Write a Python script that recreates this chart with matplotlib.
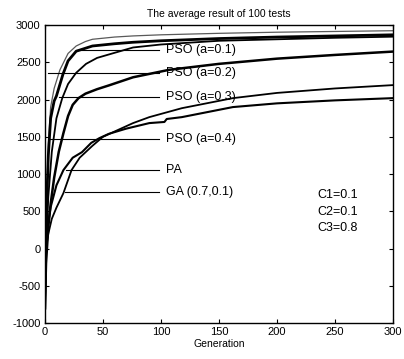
import matplotlib
matplotlib.use("Agg")
import matplotlib.pyplot as plt

plt.rcParams["font.family"] = ["Liberation Sans", "DejaVu Sans"]
plt.rcParams["axes.unicode_minus"] = False

# curves: (generation, fitness)
gen_c1 = [0, 1, 2, 3, 5, 8, 10, 13, 20, 27, 35, 41, 60, 76, 100, 150, 200, 250, 300]
val_c1 = [-800, 300, 900, 1400, 1900, 2150, 2250, 2400, 2620, 2720, 2780, 2810, 2840, 2855, 2870, 2890, 2905, 2915, 2925]

gen_c2 = [0, 1, 2, 3, 5, 8, 10, 15.6, 20, 27, 41, 60, 76, 100, 150, 200, 250, 300]
val_c2 = [-800, 200, 800, 1250, 1750, 1980, 2050, 2340, 2520, 2650, 2720, 2750, 2770, 2790, 2820, 2840, 2855, 2870]

gen_c3 = [0, 1, 3, 6, 10, 15, 20, 27, 35.5, 45, 56, 76, 100, 150, 200, 250, 300]
val_c3 = [-800, 0, 700, 1300, 1750, 2020, 2210, 2360, 2480, 2560, 2610, 2700, 2740, 2790, 2810, 2830, 2845]

gen_c4 = [0, 1, 3, 5, 8, 12, 16, 20, 24, 29, 35, 45, 55, 76, 107, 150, 200, 250, 300]
val_c4 = [-800, -200, 300, 600, 950, 1300, 1550, 1780, 1930, 2020, 2080, 2140, 2190, 2300, 2400, 2480, 2550, 2600, 2645]

gen_ga = [0, 1, 3, 6, 10, 16, 23, 30, 41, 50, 64, 76, 90, 118, 162, 200, 250, 300]
val_ga = [-800, 0, 200, 400, 550, 745, 1054, 1220, 1380, 1500, 1600, 1685, 1765, 1885, 2020, 2090, 2150, 2195]

gen_pa = [0, 1, 3, 5, 10, 16, 24, 32, 40, 47, 55, 70, 90, 103, 105, 118, 162, 200, 250, 300]
val_pa = [-800, 100, 350, 557, 850, 1054, 1220, 1295, 1420, 1483, 1540, 1610, 1685, 1700, 1740, 1765, 1900, 1950, 1990, 2020]

# label leader lines: name, level, start generation
labels = ["PSO (a=0.1)", "PSO (a=0.2)", "PSO (a=0.3)", "PSO (a=0.4)", "PA", "GA (0.7,0.1)"]
label_y = [2670, 2360, 2030, 1470, 1050, 760]
label_x0 = [27, 3, 12, 3, 18, 17]
label_x1 = 98
label_tx = 104

params = ["C1=0.1", "C2=0.1", "C3=0.8"]
param_y = [718, 490, 276]

fig = plt.figure(figsize=(4.04, 3.59), dpi=100)
ax = fig.add_axes([0.111, 0.100, 0.862, 0.830])

ax.plot(gen_c1, val_c1, color="0.35", lw=0.9)
ax.plot(gen_c2, val_c2, color="black", lw=2.0)
ax.plot(gen_c3, val_c3, color="black", lw=1.3)
ax.plot(gen_c4, val_c4, color="black", lw=1.8)
ax.plot(gen_ga, val_ga, color="black", lw=1.3)
ax.plot(gen_pa, val_pa, color="black", lw=1.5)

for name, y, x0 in zip(labels, label_y, label_x0):
    ax.plot([x0, label_x1], [y, y], color="black", lw=0.8)
    ax.text(label_tx, y, name, fontsize=9, va="center", ha="left")

for txt, y in zip(params, param_y):
    ax.text(235, y, txt, fontsize=9, va="center")

ax.set_xlim(0, 300)
ax.set_ylim(-1000, 3000)
ax.set_xticks(range(0, 301, 50))
ax.set_yticks(range(-1000, 3001, 500))
ax.tick_params(direction="in", top=True, right=True, labelsize=8, length=3, pad=3)
ax.set_xlabel("Generation", fontsize=7.5, labelpad=1)
ax.set_title("The average result of 100 tests", fontsize=7.5, pad=6)
for s in ax.spines.values():
    s.set_linewidth(1.0)

fig.savefig("out.png", dpi=100)
